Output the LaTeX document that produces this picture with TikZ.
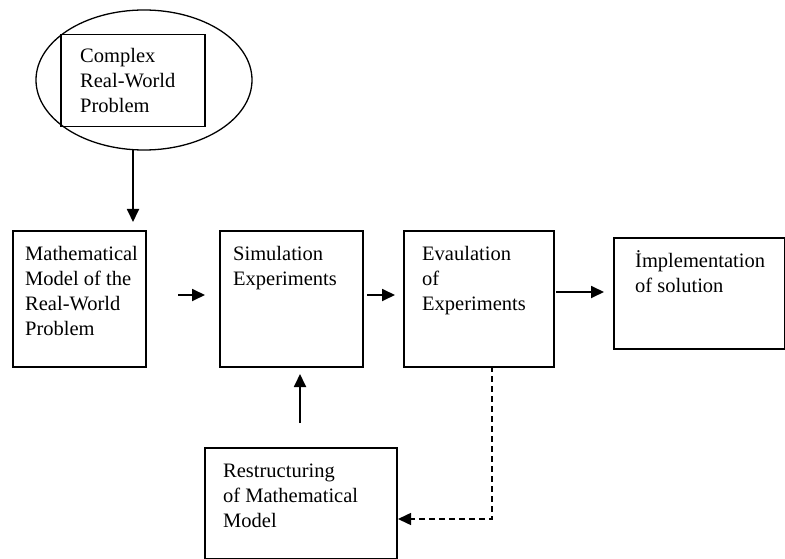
\documentclass[tikz,border=0pt]{standalone}
\usepackage{fontspec}
\setmainfont{Liberation Serif}
\usetikzlibrary{arrows.meta,shapes.geometric}
\begin{document}
\begin{tikzpicture}[x=1pt,y=-1pt,
  box/.style={draw,line width=1.5pt,rectangle,inner sep=0pt,anchor=north west},
  txt/.style={anchor=base west,align=left,inner sep=0pt,font=\fontsize{20.5}{25}\selectfont},
  arr/.style={line width=1.8pt,-{Triangle[length=13pt,width=12pt]}},
  darr/.style={line width=1.5pt,dash pattern=on 6pt off 4pt,-{Triangle[length=13pt,width=12pt]}},
]
\useasboundingbox (0,0) rectangle (785,559);
\node[draw,ellipse,line width=1.3pt,minimum width=216pt,minimum height=140pt,inner sep=0pt] (ell) at (144,80) {};
\node[box,minimum width=144pt,minimum height=92pt] (crp) at (60,34) {};
\node[txt] (crpt) at (80,113) {Complex\\Real-World\\Problem};

\node[box,line width=2pt,minimum width=133pt,minimum height=136pt] (m) at (12,230) {};
\node[txt] (mt) at (25,335) {Mathematical\\Model of the\\Real-World\\Problem};

\node[box,minimum width=143pt,minimum height=136pt] (s) at (219,230) {};
\node[txt] (st) at (233,285) {Simulation\\Experiments};

\node[box,minimum width=150pt,minimum height=136pt] (e) at (403,230) {};
\node[txt] (et) at (422,310) {Evaulation\\of\\Experiments};

\node[box,minimum width=171pt,minimum height=111pt] (imp) at (613,237) {};
\node[txt] (impt) at (635,292) {İmplementation\\of solution};

\node[box,minimum width=192pt,minimum height=111pt] (r) at (204,447) {};
\node[txt] (rt) at (223,527) {Restructuring\\of Mathematical\\Model};

\coordinate (a1s) at (133,150);
\coordinate (a1e) at (133,222);
\draw[arr] (a1s) -- (a1e);
\coordinate (a2s) at (178,295);
\coordinate (a2e) at (205,295);
\draw[arr] (a2s) -- (a2e);
\coordinate (a3s) at (367,295);
\coordinate (a3e) at (395,295);
\draw[arr] (a3s) -- (a3e);
\coordinate (a4s) at (556,292);
\coordinate (a4e) at (604,292);
\draw[arr] (a4s) -- (a4e);
\coordinate (a5s) at (300,423);
\coordinate (a5e) at (300,374);
\draw[arr] (a5s) -- (a5e);
\coordinate (ds) at (492,366);
\coordinate (dc) at (492,519);
\coordinate (de) at (398,519);
\draw[darr] (ds) -- (dc) -- (de);
\end{tikzpicture}
\end{document}
